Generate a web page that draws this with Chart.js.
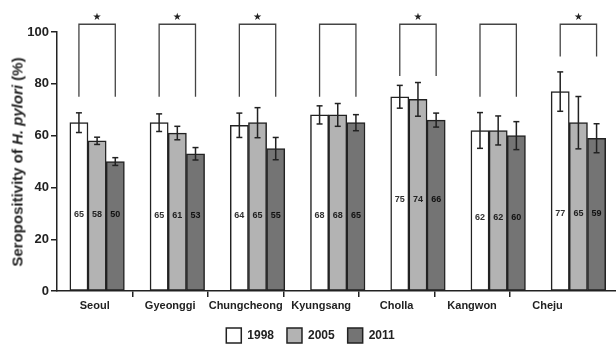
<!DOCTYPE html>
<html><head><meta charset="utf-8">
<script src="https://cdn.jsdelivr.net/npm/chart.js@4/dist/chart.umd.min.js"></script>
<style>
html,body{margin:0;padding:0;background:#fff;overflow:hidden;width:616px;height:347px;}
#wrap{position:relative;width:624px;height:353px;}
#ytitle{position:absolute;left:17px;top:162px;transform:translate(-50%,-50%) rotate(-90deg);font:bold 15px "Liberation Sans",Arial,sans-serif;color:#222;white-space:nowrap;}
</style></head><body>
<div id="wrap"><canvas id="c" width="624" height="353"></canvas><div id="ytitle">Seropositivity of <i>H. pylori</i> (%)</div></div>
<script>
// ---- data ----
const categories = ['Seoul','Gyeonggi','Chungcheong','Kyungsang','Cholla','Kangwon','Cheju'];
const years = ['1998','2005','2011'];
const v1998 = [65,65,64,68,75,62,77];
const v2005 = [58,61,65,68,74,62,65];
const v2011 = [50,53,55,65,66,60,59];
const e1998 = [3.8,3.4,4.7,3.5,4.4,6.9,7.6];
const e2005 = [1.4,2.6,5.8,4.4,6.5,5.6,10.1];
const e2011 = [1.5,2.4,4.3,3.1,2.7,5.4,5.6];
const bracketBase = [75,75,75,75,83,75,90.5];
const bracketTop = 103;
const significant = [true,true,true,false,true,false,true];
const labelLevel = [29.6,29,29,29,35.4,28.5,30];
const yTicks = [0,20,40,60,80,100];

// ---- layout constants ----
const groupPct = 0.68;
const barW = groupPct/3;
const labelAxisMax = 7.44;

const series = [v1998,v2005,v2011];
const errs = [e1998,e2005,e2011];
const fills = ['#ffffff','#b3b3b3','#747474'];
const labelColors = ['#333','#222','#111'];

const barData = series.map((vals,s)=>vals.map((v,i)=>({x:i+(s-1)*barW,y:v})));
const errData = [];
series.forEach((vals,s)=>{
  const off = (s-1)*barW;
  vals.forEach((v,i)=>{
    errData.push({x:i+off,y:v-errs[s][i]},{x:i+off,y:v+errs[s][i]},{x:i+off,y:null});
  });
});
const brData = [];
bracketBase.forEach((b,i)=>{
  brData.push({x:i-barW,y:b},{x:i-barW,y:bracketTop},{x:i+barW,y:bracketTop},{x:i+barW,y:b},{x:i,y:null});
});

const valueLabels = {
  id:'valueLabels',
  afterDatasetsDraw(chart){
    const ctx = chart.ctx, y = chart.scales.y;
    ctx.save();
    ctx.font = 'bold 9px "Liberation Sans", Arial, sans-serif';
    ctx.textAlign='center'; ctx.textBaseline='middle';
    series.forEach((vals,d)=>{
      const meta = chart.getDatasetMeta(d);
      meta.data.forEach((bar,i)=>{
        ctx.fillStyle = labelColors[d];
        ctx.fillText(String(vals[i]), bar.x, y.getPixelForValue(labelLevel[i]));
      });
    });
    ctx.restore();
  }
};

Chart.defaults.font.family = '"Liberation Sans", Arial, sans-serif';
Chart.defaults.color = '#222';

new Chart(document.getElementById('c'), {
  type:'bar',
  data:{
    labels: categories,
    datasets:[
      ...series.map((vals,s)=>({label:years[s],data:barData[s],backgroundColor:fills[s],borderColor:'#222',borderWidth:1.5,borderSkipped:false,grouped:false,categoryPercentage:1,barPercentage:1,xAxisID:'xl',yAxisID:'y'})),
      {type:'line',label:'err',data:errData,xAxisID:'xl',yAxisID:'y',borderColor:'#222',borderWidth:1.5,pointStyle:'line',pointRadius:3,pointBorderWidth:1.5,pointBorderColor:'#222',spanGaps:false,fill:false,order:-1,clip:false},
      {type:'line',label:'br',data:brData,xAxisID:'xl',yAxisID:'y',borderColor:'#444',borderWidth:1.3,pointRadius:0,spanGaps:false,fill:false,order:-1,clip:false}
    ]
  },
  options:{
    responsive:false, animation:false, events:[],
    layout:{padding:{left:0,right:3,top:2,bottom:0}},
    plugins:{
      tooltip:{enabled:false},
      legend:{position:'bottom',labels:{boxWidth:15,boxHeight:15,padding:13,font:{size:12,weight:'bold'},color:'#222',filter:it=>it.datasetIndex<3}}
    },
    scales:{
      x:{type:'category',position:'top',offset:true,grid:{display:false,drawTicks:false},border:{display:false},
         ticks:{autoSkip:false,maxRotation:0,padding:9,font:{family:'"DejaVu Sans"',size:10},color:'#222',callback:(v,i)=>significant[i]?'★':''}},
      xl:{type:'linear',min:-0.5,max:6.5,display:false,offset:false,grid:{offset:false},ticks:{stepSize:1}},
      x2:{type:'linear',position:'bottom',min:0,max:labelAxisMax,offset:false,
          afterBuildTicks:s=>{s.ticks=[];for(let k=1;k<=13;k++)s.ticks.push({value:k*0.5});},
          ticks:{autoSkip:false,maxRotation:0,padding:4,font:{size:11,weight:'bold',lineHeight:0.9},color:'#222',callback:v=>Number.isInteger(v)?'':categories[Math.floor(v)]},
          grid:{offset:false,drawOnChartArea:false,tickLength:6,lineWidth:1.5,color:c=>(c.tick&&Number.isInteger(c.tick.value))?'#222':'rgba(0,0,0,0)'},
          border:{color:'#222',width:1.5}},
      y:{min:0,max:100,afterBuildTicks:s=>{s.ticks=yTicks.map(v=>({value:v}));},
         afterFit:s=>{s.width=57;},
         ticks:{padding:2,font:{size:13,weight:'bold'},color:'#222'},
         grid:{drawOnChartArea:false,tickLength:6,lineWidth:1.5,color:'#222'},
         border:{color:'#222',width:1.5}}
    }
  },
  plugins:[valueLabels]
});
</script>
</body></html>
